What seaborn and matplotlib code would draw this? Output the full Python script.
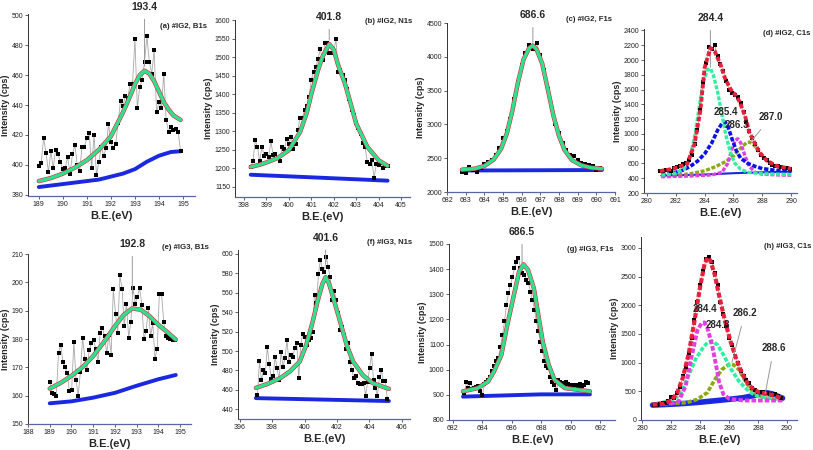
import numpy as np
import matplotlib
matplotlib.use("Agg")
import matplotlib.pyplot as plt
import seaborn as sns

# ---- (a) IG2 B1s ----
a_data_y = [399, 401, 418, 408, 395, 409, 398, 410, 407, 402, 397, 398, 405, 394, 407,
            413, 400, 396, 412, 412, 418, 421, 398, 420, 393, 402, 412, 406, 411, 427,
            415, 411, 414, 428, 443, 439, 446, 445, 454, 454, 484, 438, 452, 457, 469,
            486, 469, 461, 477, 435, 442, 438, 461, 430, 422, 425, 423, 424, 422, 409]
a_data_x0, a_data_x1 = 189.0, 194.9
a_fit_x = [189.0, 189.5, 190.0, 190.5, 191.0, 191.5, 192.0, 192.5, 192.8, 193.0, 193.2,
           193.4, 193.6, 193.8, 194.0, 194.2, 194.4, 194.6, 194.9]
a_fit_y = [389, 391, 394, 398, 403, 410, 419, 435, 446, 454, 460, 463, 461, 456, 449,
           442, 437, 433, 430]
a_bg_x = [189.0, 190.0, 191.0, 191.5, 192.0, 192.5, 193.0, 193.5, 194.0, 194.5, 194.9]
a_bg_y = [385, 387, 389, 390, 392, 394, 397, 402, 406, 408.5, 409]

# ---- (b) IG2 N1s ----
b_data_y = [1204, 1219, 1276, 1258, 1219, 1258, 1234, 1238, 1231, 1273, 1237, 1240, 1228,
            1220, 1258, 1252, 1280, 1265, 1285, 1253, 1265, 1303, 1337, 1337, 1357, 1368,
            1393, 1438, 1460, 1474, 1494, 1521, 1492, 1537, 1537, 1512, 1512, 1514, 1548,
            1460, 1465, 1451, 1438, 1414, 1387, 1357, 1343, 1322, 1309, 1294, 1269, 1258,
            1216, 1211, 1222, 1174, 1213, 1208, 1215, 1201, 1207, 1207]
b_data_x0, b_data_x1 = 398.3, 404.4
b_fit_x = [398.3, 398.7, 399.0, 399.5, 400.0, 400.5, 400.8, 401.0, 401.3, 401.5, 401.8,
           402.0, 402.2, 402.5, 402.8, 403.0, 403.5, 404.0, 404.4]
b_fit_y = [1204, 1210, 1216, 1228, 1249, 1298, 1350, 1400, 1465, 1501, 1535, 1520, 1478,
           1429, 1365, 1321, 1258, 1222, 1207]
b_bg_x = [398.3, 401.4, 404.4]
b_bg_y = [1183, 1175, 1167]

# ---- (c) IG2 F1s ----
c_data_y = [2290, 2280, 2370, 2330, 2300, 2350, 2420, 2450, 2470, 2540, 2650, 2800, 2900,
            3080, 3380, 3630, 3880, 4050, 4180, 4120, 4200, 4020, 3810, 3520, 3230, 3000,
            2870, 2730, 2620, 2550, 2530, 2480, 2430, 2420, 2400, 2380, 2320, 2350]
c_data_x0, c_data_x1 = 682.8, 690.2
c_fit_x = [682.8, 683.5, 684.0, 684.5, 684.9, 685.2, 685.5, 685.8, 686.1, 686.4, 686.6,
           686.8, 687.1, 687.4, 687.7, 688.0, 688.3, 688.7, 689.2, 689.7, 690.3]
c_fit_y = [2330, 2345, 2385, 2480, 2640, 2860, 3200, 3620, 3960, 4130, 4165, 4110, 3900,
           3520, 3130, 2830, 2620, 2470, 2395, 2360, 2345]
c_bg_x = [682.8, 690.3]
c_bg_y = [2318, 2325]

# ---- (d) IG2 C1s ----
d_data_y = [500, 495, 510, 505, 500, 540, 550, 560, 590, 600, 640, 720, 860, 1050, 1330,
            1700, 1960, 2180, 2150, 2200, 2050, 1950, 1850, 1720, 1600, 1560, 1530, 1500,
            1420, 1300, 1160, 1040, 950, 860, 780, 720, 670, 640, 610, 580, 570, 560, 550,
            545, 540, 530]
d_data_x0, d_data_x1 = 280.9, 289.9
d_env_x = [280.9, 281.8, 282.8, 283.3, 283.7, 284.0, 284.4, 284.7, 285.1, 285.4, 285.8,
           286.1, 286.4, 286.8, 287.1, 287.5, 287.8, 288.3, 289.0, 290.0]
d_env_y = [496, 527, 594, 863, 1311, 1894, 2163, 2118, 1939, 1759, 1603, 1535, 1446, 1244,
           1020, 863, 751, 639, 563, 527]
d_g_x = [281.0, 282.0, 282.6, 283.0, 283.3, 283.6, 283.9, 284.2, 284.4, 284.6, 284.9,
         285.2, 285.5, 285.8, 286.1, 286.5, 287.0, 288.0, 290.0]
d_g_y = [440, 470, 530, 700, 950, 1330, 1700, 1870, 1885, 1800, 1570, 1260, 960, 740, 600,
         520, 480, 460, 450]
d_b_x = [281.0, 282.0, 282.5, 283.0, 283.5, 284.0, 284.5, 284.9, 285.2, 285.4, 285.6,
         285.9, 286.2, 286.5, 287.0, 287.5, 288.0, 289.0, 290.0]
d_b_y = [450, 480, 510, 560, 630, 730, 880, 1050, 1140, 1160, 1110, 930, 770, 670, 600,
         560, 530, 505, 495]
d_m_x = [281.0, 283.0, 284.5, 285.2, 285.6, 285.9, 286.1, 286.3, 286.5, 286.8, 287.1,
         287.5, 288.0, 289.0, 290.0]
d_m_y = [420, 430, 445, 480, 600, 800, 910, 935, 880, 700, 560, 480, 455, 445, 440]
d_o_x = [281.0, 282.0, 283.0, 284.0, 284.8, 285.5, 286.0, 286.5, 286.9, 287.1, 287.4,
         287.8, 288.3, 288.8, 289.4, 290.0]
d_o_y = [430, 440, 460, 500, 560, 630, 700, 810, 880, 890, 850, 750, 640, 570, 530, 510]
d_bg_x = [281.0, 284.0, 286.0, 288.0, 290.0]
d_bg_y = [435, 450, 468, 480, 490]

# ---- (e) IG3 B1s ----
e_data_y = [165, 161, 160.5, 160, 175, 178, 172, 170, 168, 161.5, 162, 179, 165.5, 160,
            168.5, 180.5, 173, 169, 176, 178.5, 179.5, 176.5, 172, 182, 184, 181, 175,
            181.5, 174.5, 197.5, 189, 182, 202.5, 197.5, 184.5, 192.5, 180.5, 186, 198,
            192.5, 195, 198, 192, 180, 183, 191, 181, 185.5, 173, 176.5, 196, 196, 186,
            181, 180.5, 180, 179.5, 179.5]
e_data_x0, e_data_x1 = 189.0, 194.75
e_fit_x = [189.0, 189.5, 190.0, 190.5, 191.0, 191.5, 192.0, 192.4, 192.8, 193.2, 193.6,
           194.0, 194.4, 194.8]
e_fit_y = [162.5, 164.5, 167, 170, 174, 179, 184.5, 188.5, 190.8, 190.3, 188, 185, 182.5,
           179.8]
e_bg_x = [189.0, 190.0, 191.0, 192.0, 193.0, 194.0, 194.8]
e_bg_y = [157.3, 158, 159.3, 161, 163.5, 165.8, 167.3]

# ---- (f) IG3 N1s ----
f_data_y = [455, 490, 470, 480, 477, 504, 487, 471, 474, 494, 482, 470, 499, 484, 493, 511,
            489, 496, 494, 503, 508, 472, 506, 518, 514, 506, 511, 513, 520, 558, 549, 579,
            594, 584, 581, 597, 586, 576, 553, 562, 553, 539, 522, 525, 517, 502, 508, 489,
            480, 472, 474, 467, 466, 466, 467, 454, 468, 482, 497, 470, 462, 454, 473, 480,
            469, 469, 451]
f_data_x0, f_data_x1 = 397.1, 405.1
f_fit_x = [397.0, 397.7, 398.5, 399.1, 399.7, 400.1, 400.5, 400.8, 401.1, 401.3, 401.5,
           401.8, 402.2, 402.6, 403.0, 403.6, 404.2, 405.2]
f_fit_y = [462, 466, 472, 479, 489, 506, 530, 551, 569, 576, 570, 553, 530, 506, 489, 475,
           467, 461]
f_bg_x = [397.0, 405.2]
f_bg_y = [451.5, 448.5]

# ---- (g) IG3 F1s ----
g_data_y = [907, 953, 927, 947, 924, 927, 930, 934, 914, 901, 943, 953, 960, 973, 993, 1013,
            1033, 1046, 1092, 1139, 1192, 1258, 1304, 1337, 1370, 1403, 1430, 1443, 1403,
            1384, 1377, 1357, 1344, 1311, 1278, 1238, 1192, 1152, 1112, 1073, 1033, 1013,
            1007, 973, 953, 940, 920, 960, 953, 947, 940, 953, 943, 940, 934, 938, 940, 934,
            943, 934, 940, 953, 947]
g_data_x0, g_data_x1 = 682.8, 691.2
g_fit_x = [682.7, 683.7, 684.4, 684.8, 685.3, 685.7, 686.2, 686.5, 686.8, 687.1, 687.5,
           687.8, 688.1, 688.5, 688.9, 689.6, 691.3]
g_fit_y = [914, 927, 953, 993, 1059, 1178, 1311, 1390, 1419, 1397, 1324, 1218, 1112, 1020,
           960, 927, 914]
g_bg_x = [682.7, 688.0, 691.3]
g_bg_y = [893, 902, 902]

# ---- (h) IG3 C1s ----
h_data_y = [270, 270, 280, 290, 300, 330, 400, 390, 470, 580, 760, 920, 1170, 1430, 1750,
            2060, 2350, 2600, 2800, 2850, 2750, 2560, 2350, 2060, 1850, 1640, 1430, 1300,
            1120, 1000, 850, 760, 690, 650, 560, 520, 490, 480, 490, 470, 450, 440, 460,
            420, 380]
h_data_x0, h_data_x1 = 280.8, 289.6
h_env_x = [280.7, 281.5, 282.0, 282.4, 282.8, 283.2, 283.6, 284.0, 284.3, 284.5, 284.7,
           285.0, 285.3, 285.7, 286.1, 286.5, 286.9, 287.3, 287.7, 288.1, 288.6, 289.1,
           289.7]
h_env_y = [265, 285, 340, 470, 740, 1150, 1720, 2330, 2720, 2830, 2780, 2540, 2180, 1740,
           1370, 1060, 810, 630, 530, 480, 460, 430, 370]
h_m_x = [281.0, 282.0, 282.5, 283.0, 283.4, 283.8, 284.1, 284.3, 284.5, 284.8, 285.1,
         285.3, 285.6, 286.0, 287.0, 288.0, 289.7]
h_m_y = [280, 290, 320, 600, 1100, 1560, 1690, 1700, 1600, 1330, 950, 670, 450, 370, 340,
         340, 340]
h_g_x = [281.0, 282.0, 282.6, 283.1, 283.7, 284.2, 284.5, 284.8, 285.2, 285.6, 286.1,
         286.7, 287.4, 288.0, 289.0, 289.7]
h_g_y = [290, 340, 440, 720, 1070, 1260, 1350, 1375, 1310, 1140, 900, 670, 490, 410, 375,
         360]
h_o_x = [281.0, 283.0, 283.8, 284.5, 285.0, 285.5, 286.0, 286.3, 286.7, 287.1, 287.5,
         287.9, 288.5, 289.7]
h_o_y = [280, 300, 360, 480, 700, 880, 970, 965, 870, 690, 540, 450, 380, 350]
h_b_x = [280.7, 282.0, 283.0, 284.0, 285.0, 286.0, 287.0, 287.8, 288.3, 288.6, 289.0,
         289.4, 289.7]
h_b_y = [260, 275, 290, 310, 335, 360, 390, 430, 465, 475, 455, 410, 380]

FIG_W, FIG_H = 813, 450
GREEN = "#2fe08c"
RED = "#e8203c"
BLUE = "#1a28e0"

sns.set_style("ticks")
plt.rcParams["font.family"] = ["Liberation Sans", "DejaVu Sans"]

fig = plt.figure(figsize=(FIG_W / 100, FIG_H / 100), dpi=100)


def make_axes(left, top, right, bottom):
    # pixel box -> figure fraction
    return fig.add_axes([left / FIG_W, 1 - bottom / FIG_H,
                         (right - left) / FIG_W, (bottom - top) / FIG_H])


def style_axes(ax, xlim, ylim, xticks, yticks, label, lab_xy):
    ax.set_xlim(*xlim)
    ax.set_ylim(*ylim)
    ax.set_xticks(xticks)
    ax.set_yticks(yticks)
    ax.spines["top"].set_visible(False)
    ax.spines["right"].set_visible(False)
    ax.spines["left"].set_linewidth(0.7)
    ax.spines["left"].set_color("#333333")
    ax.spines["bottom"].set_linewidth(0.9)
    ax.spines["bottom"].set_color("#5a64a8")
    ax.tick_params(labelsize=5, length=2, width=0.5, pad=1.5, colors="#222222")
    ax.set_xlabel("B.E.(eV)", fontsize=8, fontweight="bold", labelpad=2)
    ax.set_ylabel("Intensity (cps)", fontsize=6.5, fontweight="bold", labelpad=1)
    ax.text(lab_xy[0], lab_xy[1], label, transform=ax.transAxes, fontsize=5.6,
            fontweight="bold", ha="right", va="center")


def draw_data(ax, x0, x1, values):
    xs = np.linspace(x0, x1, len(values))
    sns.lineplot(x=xs, y=values, ax=ax, color="#a8a8a8", lw=0.6, marker="s",
                 markersize=2.8, markerfacecolor="black", markeredgecolor="black",
                 markeredgewidth=0, sort=False, zorder=3)


def draw_line(ax, xs, ys, color, lw, z, ls="-"):
    sns.lineplot(x=xs, y=ys, ax=ax, color=color, lw=lw, ls=ls, sort=False, zorder=z)


def top_label(ax, text, x, y, yfrac):
    ax.annotate(text, xy=(x, y), xytext=(x, yfrac),
                textcoords=("data", "axes fraction"),
                fontsize=7.5, fontweight="bold", ha="center", va="center",
                arrowprops=dict(arrowstyle="-", color="#999999", lw=0.7,
                                shrinkA=3, shrinkB=0), annotation_clip=False)


def inner_label(ax, text, xy_text, xy_line=None):
    if xy_line is None:
        ax.text(xy_text[0], xy_text[1], text, fontsize=7, fontweight="bold",
                ha="center", va="center", zorder=6)
    else:
        ax.annotate(text, xy=xy_line, xytext=xy_text, fontsize=7,
                    fontweight="bold", ha="center", va="center", zorder=6,
                    arrowprops=dict(arrowstyle="-", color="#999999", lw=0.7,
                                    shrinkA=4, shrinkB=0))


def simple_panel(box, data, fit, bg, lims, ticks, label, lab_xy, peak):
    ax = make_axes(*box)
    draw_line(ax, bg[0], bg[1], BLUE, 2.8, 2)
    draw_data(ax, *data)
    draw_line(ax, fit[0], fit[1], RED, 3.2, 4)
    draw_line(ax, fit[0], fit[1], GREEN, 2.4, 5)
    style_axes(ax, lims[0], lims[1], ticks[0], ticks[1], label, lab_xy)
    top_label(ax, *peak)
    return ax


# (a)
simple_panel((28, 14, 195, 196), (a_data_x0, a_data_x1, a_data_y), (a_fit_x, a_fit_y),
             (a_bg_x, a_bg_y), ((188.55, 195.5), (379, 501)),
             (range(189, 196), range(380, 501, 20)), "(a) #IG2, B1s", (1.07, 0.934),
             ("193.4", 193.4, 466, 1.04))
# (b)
simple_panel((235, 20, 410, 197), (b_data_x0, b_data_x1, b_data_y), (b_fit_x, b_fit_y),
             (b_bg_x, b_bg_y), ((397.6, 405.4), (1123, 1600)),
             (range(398, 406), range(1150, 1601, 50)), "(b) #IG2, N1s", (1.01, 0.99),
             ("401.8", 401.8, 1545, 1.017))
# (c)
simple_panel((447, 23, 615, 192), (c_data_x0, c_data_x1, c_data_y), (c_fit_x, c_fit_y),
             (c_bg_x, c_bg_y), ((682, 691), (2000, 4500)),
             (range(682, 692), range(2000, 4501, 500)), "(c) #IG2, F1s", (0.985, 1.018),
             ("686.6", 686.6, 4180, 1.047))
# (e)
simple_panel((28, 254, 191, 424), (e_data_x0, e_data_x1, e_data_y), (e_fit_x, e_fit_y),
             (e_bg_x, e_bg_y), ((188, 195.5), (150, 210)),
             (range(188, 196), range(150, 211, 10)), "(e) #IG3, B1s", (1.11, 1.04),
             ("192.8", 192.8, 196, 1.059))
# (f)
simple_panel((238, 250, 410, 419), (f_data_x0, f_data_x1, f_data_y), (f_fit_x, f_fit_y),
             (f_bg_x, f_bg_y), ((395.9, 406.5), (430, 604)),
             (range(396, 407, 2), range(440, 601, 20)), "(f) #IG3, N1s", (1.01, 1.047),
             ("401.6", 401.3, 590, 1.073))
# (g)
simple_panel((449, 244, 615, 420), (g_data_x0, g_data_x1, g_data_y), (g_fit_x, g_fit_y),
             (g_bg_x, g_bg_y), ((681.75, 693), (800, 1500)),
             (range(682, 693, 2), range(800, 1501, 100)), "(g) #IG3, F1s", (0.99, 0.97),
             ("686.5", 686.7, 1425, 1.068))

# (d) C1s with components
ax = make_axes(644, 29, 797, 193)
draw_line(ax, d_bg_x, d_bg_y, BLUE, 1.5, 2)
draw_line(ax, d_o_x, d_o_y, "#8aa818", 2.4, 3, ls=(0, (1.2, 0.5)))
draw_line(ax, d_m_x, d_m_y, "#e040e0", 2.4, 3, ls=(0, (1.2, 0.5)))
draw_line(ax, d_b_x, d_b_y, "#1010e8", 2.6, 3, ls=(0, (1.2, 0.5)))
draw_line(ax, d_g_x, d_g_y, "#30f0a0", 2.4, 3, ls=(0, (1.2, 0.5)))
draw_data(ax, d_data_x0, d_data_x1, d_data_y)
draw_line(ax, d_env_x, d_env_y, RED, 2.8, 4, ls=(0, (1.2, 0.5)))
style_axes(ax, (279.8, 290.4), (200, 2420), range(280, 291, 2), range(200, 2401, 200),
           "(d) #IG2, C1s", (1.09, 0.97))
top_label(ax, "284.4", 284.4, 1900, 1.067)
inner_label(ax, "285.4", (285.45, 1290))
inner_label(ax, "286.3", (286.25, 1120))
inner_label(ax, "287.0", (288.6, 1230), (287.25, 905))

# (h) C1s with components
ax = make_axes(641, 237, 797, 420)
draw_line(ax, h_b_x, h_b_y, BLUE, 4.0, 3)
draw_line(ax, h_o_x, h_o_y, "#8aa818", 2.6, 3, ls=(0, (1.2, 0.5)))
draw_line(ax, h_g_x, h_g_y, "#30f0a0", 2.6, 3, ls=(0, (1.2, 0.5)))
draw_line(ax, h_m_x, h_m_y, "#e040e0", 2.8, 3, ls=(0, (1.2, 0.5)))
draw_data(ax, h_data_x0, h_data_x1, h_data_y)
draw_line(ax, h_env_x, h_env_y, RED, 3.0, 4, ls=(0, (1.2, 0.5)))
style_axes(ax, (279.9, 290.7), (0, 3190), range(280, 291, 2), range(0, 3001, 500),
           "(h) #IG3, C1s", (1.09, 0.95))
inner_label(ax, "284.4", (284.35, 1930))
inner_label(ax, "284.8", (285.25, 1650))
inner_label(ax, "286.2", (287.1, 1870), (286.2, 1010))
inner_label(ax, "288.6", (289.1, 1260), (288.5, 460))

fig.savefig("out.png", dpi=100)
